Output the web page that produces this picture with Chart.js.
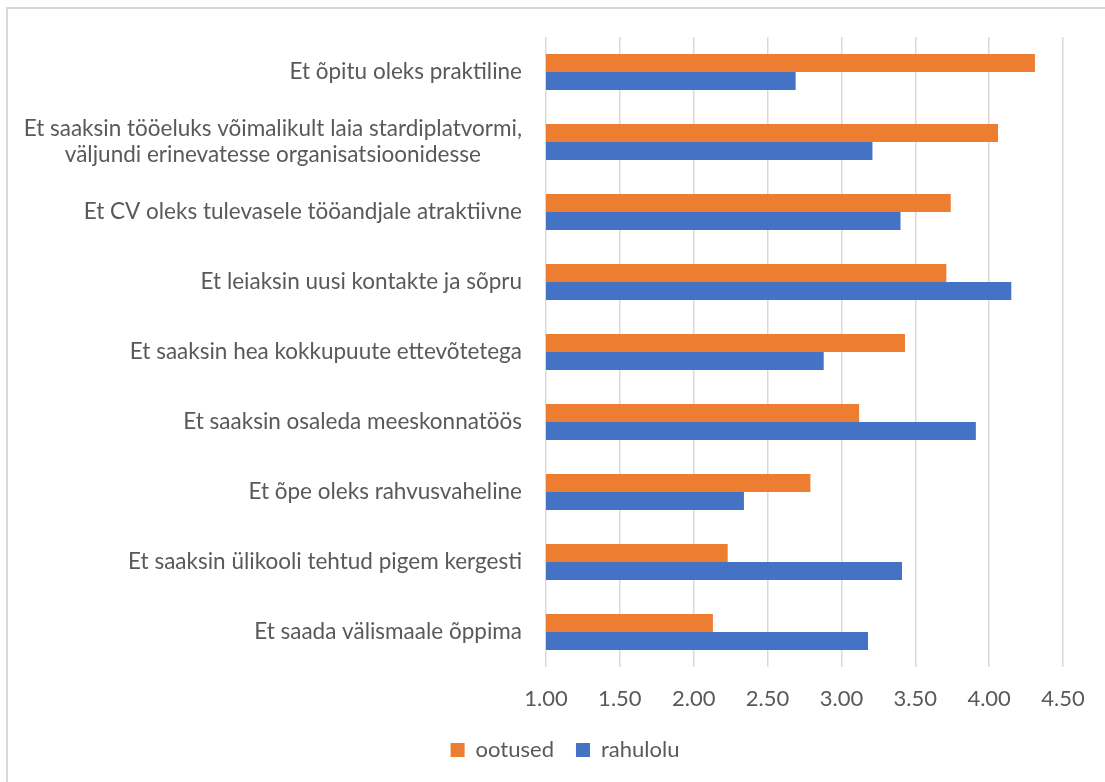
<!DOCTYPE html>
<html>
<head>
<meta charset="utf-8">
<script src="https://cdn.jsdelivr.net/npm/chart.js@4.4.1/dist/chart.umd.min.js"></script>
<style>
  html, body { margin: 0; padding: 0; background: #ffffff; overflow: hidden; }
  #frame { position: absolute; left: 6px; top: 7px; width: 1300px; height: 1000px; border: 2px solid #d9d9d9; box-sizing: border-box; }
  #wrap { position: absolute; left: 0; top: 0; width: 1105px; height: 782px; }
</style>
</head>
<body>
<div id="frame"></div>
<div id="wrap"><canvas id="c" width="1105" height="782"></canvas></div>
<script>
const categories = [
  "Et õpitu oleks praktiline",
  ["Et saaksin tööeluks võimalikult laia stardiplatvormi,", "väljundi erinevatesse organisatsioonidesse"],
  "Et CV oleks tulevasele tööandjale atraktiivne",
  "Et leiaksin uusi kontakte ja sõpru",
  "Et saaksin hea kokkupuute ettevõtetega",
  "Et saaksin osaleda meeskonnatöös",
  "Et õpe oleks rahvusvaheline",
  "Et saaksin ülikooli tehtud pigem kergesti",
  "Et saada välismaale õppima"
];
const ootused = [4.31, 4.06, 3.74, 3.71, 3.43, 3.12, 2.79, 2.23, 2.13];
const rahulolu = [2.69, 3.21, 3.40, 4.15, 2.88, 3.91, 2.34, 3.41, 3.18];
const seriesNames = ["ootused", "rahulolu"];
const xMin = 1.0, xMax = 4.5, xStep = 0.5;

const FONT = "Lato";
const TEXT = "#595959";
const FS = 22;
const FS_Y = 22.5;

const yLabelPlugin = {
  id: 'yLabels',
  afterDraw(chart) {
    const ctx = chart.ctx;
    const ys = chart.scales.y;
    const rightEdge = chart.chartArea.left - 24;
    const lineH = 26;
    ctx.save();
    ctx.font = FS_Y + "px " + FONT;
    ctx.fillStyle = TEXT;
    ctx.textAlign = 'center';
    ctx.textBaseline = 'middle';
    categories.forEach((lab, i) => {
      const lines = Array.isArray(lab) ? lab : [lab];
      const maxW = Math.max(...lines.map(l => ctx.measureText(l).width));
      const cx = rightEdge - maxW / 2;
      const cy = ys.getPixelForValue(i);
      const startY = cy - (lines.length - 1) * lineH / 2;
      lines.forEach((l, k) => ctx.fillText(l, cx, startY + k * lineH));
    });
    ctx.restore();
  }
};

new Chart(document.getElementById('c'), {
  type: 'bar',
  data: {
    labels: categories,
    datasets: [
      { label: seriesNames[0], data: ootused, backgroundColor: '#ED7D31', borderWidth: 0 },
      { label: seriesNames[1], data: rahulolu, backgroundColor: '#4472C4', borderWidth: 0 }
    ]
  },
  options: {
    indexAxis: 'y',
    responsive: false,
    animation: false,
    devicePixelRatio: 1,
    layout: { padding: { left: 67, right: 42, top: 37, bottom: 11 } },
    datasets: { bar: { categoryPercentage: 0.514, barPercentage: 1.0 } },
    scales: {
      x: {
        min: xMin, max: xMax,
        ticks: {
          stepSize: xStep,
          padding: 19,
          color: TEXT,
          font: { family: FONT, size: FS },
          callback: v => Number(v).toFixed(2)
        },
        grid: { color: '#d9d9d9', lineWidth: 1.5, drawTicks: false },
        border: { display: false },
        afterFit: s => { s.height = 50; }
      },
      y: {
        ticks: { display: false },
        grid: { display: false },
        border: { display: false },
        afterFit: s => { s.width = 479; }
      }
    },
    plugins: {
      legend: {
        position: 'bottom',
        labels: {
          color: TEXT,
          font: { family: FONT, size: FS },
          boxWidth: 14, boxHeight: 14,
          padding: 22
        }
      },
      tooltip: { enabled: false }
    }
  },
  plugins: [yLabelPlugin]
});
</script>
</body>
</html>
